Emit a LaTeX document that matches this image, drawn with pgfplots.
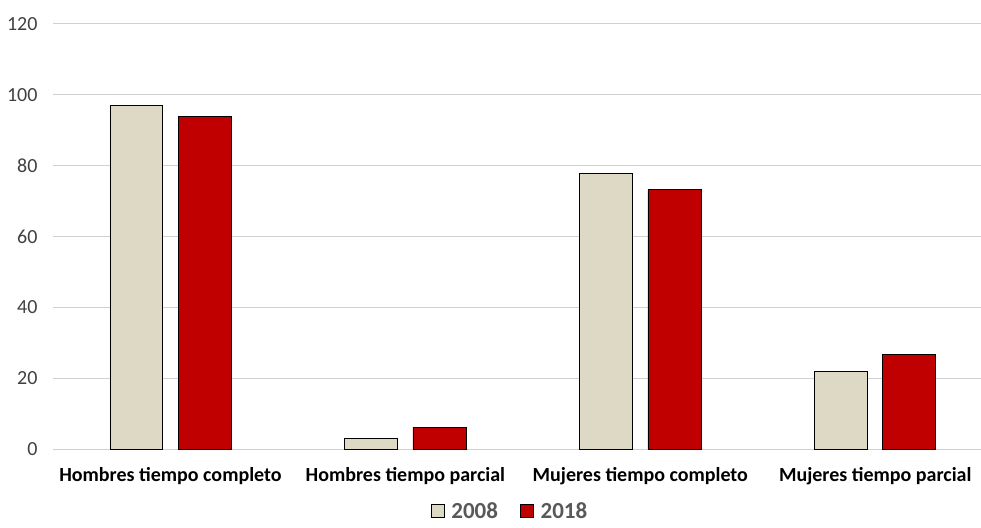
\documentclass[border=0pt]{standalone}
\usepackage{fontspec}
\setmainfont{Carlito}
\usepackage{pgfplots}
\pgfplotsset{compat=1.18}
\definecolor{c2008}{HTML}{DDD9C4}
\definecolor{c2018}{HTML}{C00000}
\definecolor{gridc}{HTML}{D0D0D0}
\definecolor{tickc}{HTML}{404040}
\definecolor{legc}{HTML}{595959}
\begin{document}
\begin{tikzpicture}[x=1pt,y=1pt]
\useasboundingbox (-53,-78) rectangle (928,449);
\begin{axis}[
  at={(0,0)}, anchor=south west,
  scale only axis, width=928pt, height=425pt,
  ymin=0, ymax=120, ytick={0,20,...,120},
  xmin=-0.5, xmax=3.45,
  xtick={0,1,2,3},
  xticklabels={Hombres tiempo completo, Hombres tiempo parcial, Mujeres tiempo completo, Mujeres tiempo parcial},
  x tick label style={font=\fontsize{20}{22}\selectfont\bfseries, text=black, yshift=-15pt},
  y tick label style={font=\fontsize{20}{22}\selectfont, text=tickc, xshift=-12pt},
  /pgf/number format/assume math mode=true,
  axis line style={draw=none},
  major tick length=0pt,
  ymajorgrids, grid style={gridc, line width=1pt},
  ybar, bar width=0.2255,
  legend style={draw=none, fill=none, at={(0.4925,-0.146)}, anchor=center, legend columns=2,
    font=\fontsize{23}{25}\selectfont\bfseries, text=legc, inner sep=0pt,
    /tikz/every odd column/.append style={column sep=5pt},
    /tikz/every even column/.append style={column sep=20pt}},
  legend image code/.code={\draw[#1, draw=black, line width=0.6pt] (0pt,-6.5pt) rectangle (13pt,6.5pt);},
]
\addplot[fill=c2008, draw=black, line width=0.8pt, bar shift=-0.145] coordinates {(0,96.9) (1,3.1) (2,77.7) (3,22.0)};
\addplot[fill=c2018, draw=black, line width=0.8pt, bar shift=0.145] coordinates {(0,93.8) (1,6.2) (2,73.2) (3,26.8)};
\legend{2008, 2018}
\end{axis}
\end{tikzpicture}
\end{document}
